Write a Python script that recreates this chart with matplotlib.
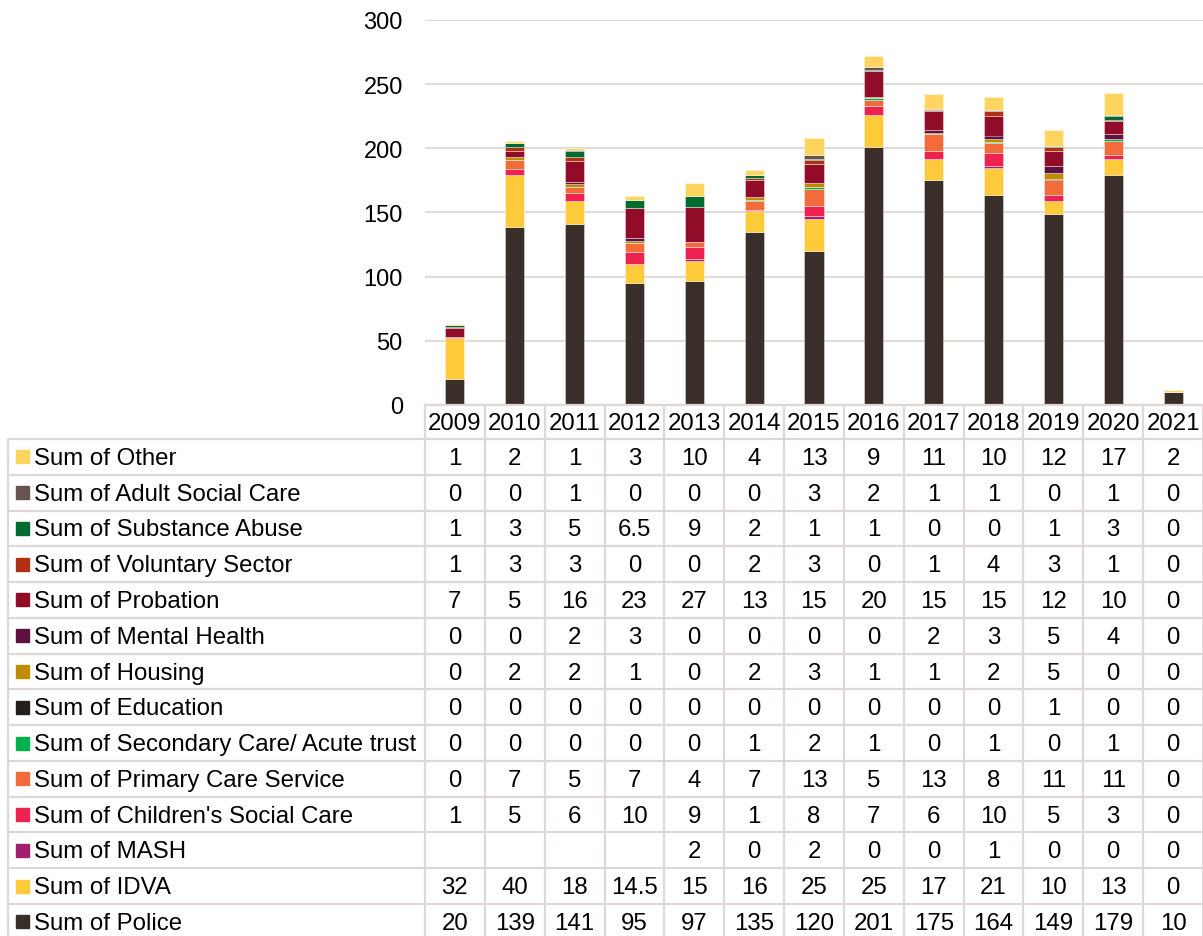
import numpy as np
import matplotlib
matplotlib.use("Agg")
from matplotlib import pyplot as plt
from matplotlib.patches import Rectangle

plt.rcParams['font.family'] = ['Liberation Sans', 'DejaVu Sans']

# Data (legend/table order, top to bottom)
years = ['2009', '2010', '2011', '2012', '2013', '2014', '2015', '2016', '2017', '2018', '2019', '2020', '2021']
series_names = ['Sum of Other', 'Sum of Adult Social Care', 'Sum of Substance Abuse', 'Sum of Voluntary Sector',
                'Sum of Probation', 'Sum of Mental Health', 'Sum of Housing', 'Sum of Education',
                'Sum of Secondary Care/ Acute trust', 'Sum of Primary Care Service',
                "Sum of Children's Social Care", 'Sum of MASH', 'Sum of IDVA', 'Sum of Police']
other = [1, 2, 1, 3, 10, 4, 13, 9, 11, 10, 12, 17, 2]
adult_social = [0, 0, 1, 0, 0, 0, 3, 2, 1, 1, 0, 1, 0]
substance = [1, 3, 5, 6.5, 9, 2, 1, 1, 0, 0, 1, 3, 0]
voluntary = [1, 3, 3, 0, 0, 2, 3, 0, 1, 4, 3, 1, 0]
probation = [7, 5, 16, 23, 27, 13, 15, 20, 15, 15, 12, 10, 0]
mental = [0, 0, 2, 3, 0, 0, 0, 0, 2, 3, 5, 4, 0]
housing = [0, 2, 2, 1, 0, 2, 3, 1, 1, 2, 5, 0, 0]
education = [0, 0, 0, 0, 0, 0, 0, 0, 0, 0, 1, 0, 0]
secondary = [0, 0, 0, 0, 0, 1, 2, 1, 0, 1, 0, 1, 0]
primary = [0, 7, 5, 7, 4, 7, 13, 5, 13, 8, 11, 11, 0]
children = [1, 5, 6, 10, 9, 1, 8, 7, 6, 10, 5, 3, 0]
mash = [None, None, None, None, 2, 0, 2, 0, 0, 1, 0, 0, 0]
idva = [32, 40, 18, 14.5, 15, 16, 25, 25, 17, 21, 10, 13, 0]
police = [20, 139, 141, 95, 97, 135, 120, 201, 175, 164, 149, 179, 10]

series = [other, adult_social, substance, voluntary, probation, mental, housing, education,
          secondary, primary, children, mash, idva, police]
colors = ['#FFD55F', '#675451', '#006B2E', '#AF3112', '#900C28', '#5E1240', '#BF8B00', '#231F1C',
          '#00B04F', '#F26B3A', '#EE2250', '#A0226E', '#FFCB3A', '#3A2E2B']

W, H = 1203, 937
fig = plt.figure(figsize=(W / 100, H / 100), dpi=100)

# chart area
plot_left, plot_right = 425, 1203
y0_px, y300_px = 406, 21
ax = fig.add_axes([plot_left / W, (H - y0_px) / H, (plot_right - plot_left) / W, (y0_px - y300_px) / H])
x = np.arange(len(years))
bottom = np.zeros(len(years))
for vals, col in zip(series[::-1], colors[::-1]):
    v = np.array([0 if a is None else a for a in vals], dtype=float)
    ax.bar(x, v, width=0.32, bottom=bottom, color=col, edgecolor=(1, 1, 1, 0.45), linewidth=0.6, zorder=3)
    bottom += v

ax.set_xlim(-0.5, len(years) - 0.5)
ax.set_ylim(0, 300)
ax.set_yticks(range(0, 301, 50))
ax.tick_params(axis='y', length=0, labelsize=17, pad=16)
ax.set_xticks([])
ax.grid(axis='y', color='#E0DCDA', linewidth=1.5, zorder=0)
for s in ax.spines.values():
    s.set_visible(False)

# data table below the chart (pixel coordinates, y pointing down)
tab = fig.add_axes([0, 0, 1, (H - y0_px) / H])
tab.set_xlim(0, W)
tab.set_ylim(H, y0_px)
tab.axis('off')

col_w = (plot_right - plot_left) / len(years)
head_top, head_bot = 406, 440
row_h = 35.77
left_edge = 8
line_c = '#DDD8D6'
lw = 1.6
fs = 17.3

# header
for i, yr in enumerate(years):
    tab.text(plot_left + (i + 0.5) * col_w, (head_top + head_bot) / 2 + 1, yr, ha='center', va='center', fontsize=fs)
tab.plot([plot_left, plot_right], [head_top, head_top], color=line_c, lw=lw, clip_on=False)

n_rows = len(series_names)
bottom_y = head_bot + n_rows * row_h
for r in range(n_rows + 1):
    yy = head_bot + r * row_h
    tab.plot([left_edge, plot_right], [yy, yy], color=line_c, lw=lw, clip_on=False)
tab.plot([left_edge, left_edge], [head_bot, bottom_y], color=line_c, lw=lw, clip_on=False)
for i in range(len(years) + 1):
    xx = plot_left + i * col_w
    tab.plot([xx, xx], [head_top, bottom_y], color=line_c, lw=lw, clip_on=False)

for r, (name, vals, col) in enumerate(zip(series_names, series, colors)):
    yc = head_bot + (r + 0.5) * row_h
    tab.add_patch(Rectangle((16, yc - 6.5), 13, 13, color=col))
    tab.text(34, yc + 1, name, ha='left', va='center', fontsize=fs)
    for i, v in enumerate(vals):
        if v is None:
            continue
        tab.text(plot_left + (i + 0.5) * col_w, yc + 1, f"{v:g}", ha='center', va='center', fontsize=fs)

plt.savefig('out.png', dpi=100)
